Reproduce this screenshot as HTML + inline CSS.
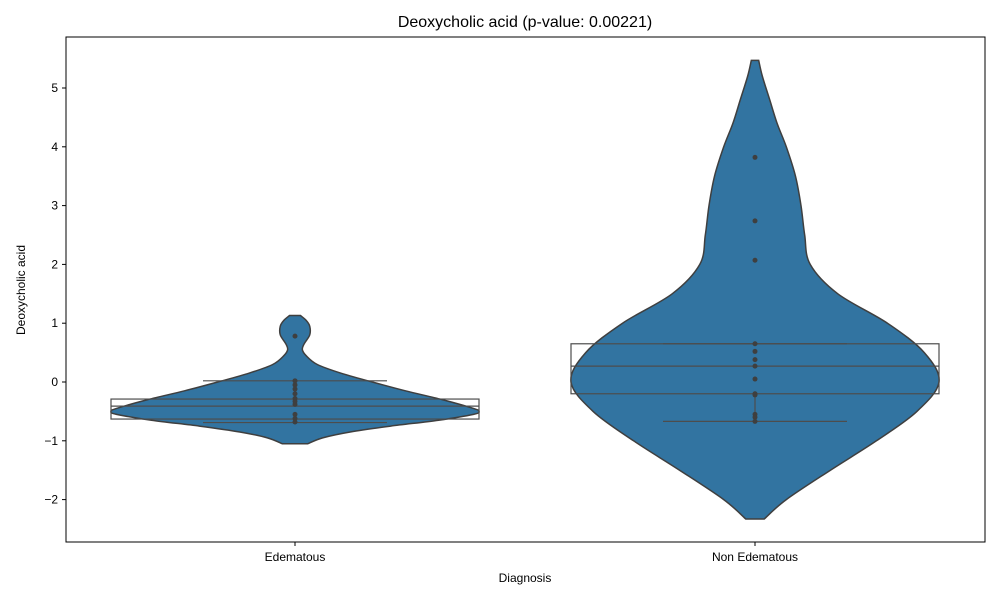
<!DOCTYPE html>
<html><head><meta charset="utf-8"><style>
body{margin:0;background:#fff;font-family:"Liberation Sans",sans-serif}
</style></head><body>
<svg id="chart" width="1000" height="600" xmlns="http://www.w3.org/2000/svg">
<rect width="1000" height="600" fill="#fff"/>
<text x="525" y="27" font-size="16" text-anchor="middle" fill="#000">Deoxycholic acid (p-value: 0.00221)</text>
<g id="plot"></g>
<rect x="66" y="37" width="919" height="505" fill="none" stroke="#000" stroke-width="1"/>
<text x="525" y="582" font-size="12" text-anchor="middle">Diagnosis</text>
<text transform="translate(25,290) rotate(-90)" font-size="12" text-anchor="middle">Deoxycholic acid</text>
</svg>
<script>
const categories = ["Edematous", "Non Edematous"];
const yTicks = [-2, -1, 0, 1, 2, 3, 4, 5];
const densY0 = [1.13, 1.05, 0.95, 0.8, 0.65, 0.55, 0.45, 0.3, 0.15, 0, -0.15, -0.3, -0.45, -0.5, -0.55, -0.65, -0.75, -0.85, -0.95, -1.05];
const densW0 = [0.03, 0.06, 0.08, 0.08, 0.05, 0.04, 0.06, 0.12, 0.25, 0.42, 0.6, 0.8, 0.97, 1.0, 0.97, 0.78, 0.52, 0.3, 0.15, 0.07];
const densY1 = [5.47, 5.2, 4.8, 4.4, 4.0, 3.5, 3.0, 2.5, 2.0, 1.5, 1.0, 0.5, 0.0, -0.5, -1.0, -1.5, -2.0, -2.33];
const densW1 = [0.02, 0.04, 0.08, 0.12, 0.17, 0.22, 0.25, 0.27, 0.3, 0.45, 0.72, 0.92, 1.0, 0.88, 0.66, 0.41, 0.17, 0.05];
const points0 = [0.78, 0.02, -0.05, -0.12, -0.2, -0.28, -0.33, -0.38, -0.55, -0.62, -0.68];
const points1 = [3.82, 2.74, 2.07, 0.65, 0.52, 0.38, 0.27, 0.05, -0.2, -0.22, -0.55, -0.6, -0.67];
const boxQ1 = [-0.63, -0.2];
const boxMed = [-0.41, 0.27];
const boxQ3 = [-0.29, 0.65];
const whiskLo = [-0.69, -0.67];
const whiskHi = [0.02, 0.65];

const NS = "http://www.w3.org/2000/svg";
const plot = document.getElementById("plot");
function yS(v){ return 382 - 58.8 * v; }
function xS(i){ return 295 + i * 460; }
const HALF = 184;
function mk(tag, attrs){ const e = document.createElementNS(NS, tag); for (const k in attrs) e.setAttribute(k, attrs[k]); plot.appendChild(e); return e; }

yTicks.forEach(t => {
  const l = mk("line", {x1: 62, x2: 66, y1: yS(t), y2: yS(t), stroke: "#000"});
  
  
  const tx = mk("text", {x: 58, y: yS(t) + 4, "font-size": 12, "text-anchor": "end"});
  tx.textContent = t < 0 ? "\u2212" + Math.abs(t) : String(t);
  
  
});
categories.forEach((c, i) => {
  const l = mk("line", {x1: xS(i), x2: xS(i), y1: 542, y2: 546, stroke: "#000"});
  
  
  const tx = mk("text", {x: xS(i), y: 561, "font-size": 12, "text-anchor": "middle"});
  tx.textContent = c;
  
  
});

function smooth(pts){
  let d = "M" + pts[0][0] + "," + pts[0][1];
  for (let i = 0; i < pts.length - 1; i++){
    const p0 = pts[Math.max(0, i-1)], p1 = pts[i], p2 = pts[i+1], p3 = pts[Math.min(pts.length-1, i+2)];
    const c1 = [p1[0] + (p2[0]-p0[0])/6, p1[1] + (p2[1]-p0[1])/6];
    const c2 = [p2[0] - (p3[0]-p1[0])/6, p2[1] - (p3[1]-p1[1])/6];
    d += " C" + c1 + " " + c2 + " " + p2;
  }
  return d;
}
function violin(i, ys, ws){
  const cx = xS(i);
  const right = ys.map((y, k) => [cx + ws[k]*HALF, yS(y)]);
  const left = ys.map((y, k) => [cx - ws[k]*HALF, yS(y)]).reverse();
  const dR = smooth(right), dL = smooth(left).replace(/^M/, " L");
  const p = mk("path", {d: dR + dL + " Z", fill: "#3274a1", stroke: "#3f3f3f", "stroke-width": 1.5});
  
  
}
violin(0, densY0, densW0);
violin(1, densY1, densW1);

categories.forEach((c, i) => {
  const cx = xS(i);
  const r = mk("rect", {x: cx - HALF, y: yS(boxQ3[i]), width: 2*HALF, height: yS(boxQ1[i]) - yS(boxQ3[i]), fill: "none", stroke: "#4d4d4d", "stroke-width": 1.2});
  
  
  const m = mk("line", {x1: cx - HALF, x2: cx + HALF, y1: yS(boxMed[i]), y2: yS(boxMed[i]), stroke: "#4d4d4d", "stroke-width": 1.2});
  
  
  [[boxQ1[i], whiskLo[i]], [boxQ3[i], whiskHi[i]]].forEach(([a, b]) => {
    const w = mk("line", {x1: cx, x2: cx, y1: yS(a), y2: yS(b), stroke: "#4d4d4d", "stroke-width": 1.2});
    
    
    const cap = mk("line", {x1: cx - 92, x2: cx + 92, y1: yS(b), y2: yS(b), stroke: "#4d4d4d", "stroke-width": 1.2});
    
    
  });
  (i === 0 ? points0 : points1).forEach(v => {
    const d = mk("circle", {cx: cx, cy: yS(v), r: 2.5, fill: "#3f3f3f"});
    
    
  });
});
</script>
</body></html>
